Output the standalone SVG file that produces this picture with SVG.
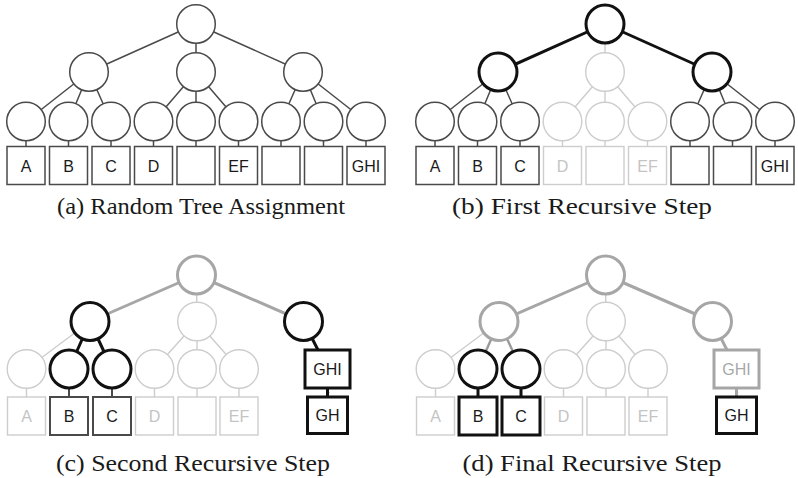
<svg xmlns="http://www.w3.org/2000/svg" width="798" height="478" viewBox="0 0 798 478">
  <style>
    .bg { fill: #ffffff; }
    circle { fill: #ffffff; }
    rect { fill: #ffffff; }
    line { stroke-linecap: round; }
    .n { stroke: #4a4a4a; stroke-width: 1.5; }
    .l { stroke: #cdcdcd; stroke-width: 1.4; }
    .k { stroke: #111111; stroke-width: 3; }
    .g { stroke: #a6a6a6; stroke-width: 3; }
    .m { stroke: #4a4a4a; stroke-width: 2; }
    .gm { stroke: #9a9a9a; stroke-width: 2.4; }
    .lbl { font-family: "Liberation Sans", Arial, sans-serif; font-size: 16px; text-anchor: middle; fill: #1a1a1a; }
    .lbl.lt { fill: #c4c4c4; }
    .lbl.gt { fill: #a8a8a8; }
    .cap { font-family: "Liberation Serif", "Times New Roman", serif; font-size: 23.5px; text-anchor: middle; fill: #1a1a1a; }
  </style>
  <defs>
    <marker id="tipK" viewBox="0 0 10 10" refX="9" refY="5" markerWidth="4" markerHeight="4" orient="auto" markerUnits="userSpaceOnUse">
      <path d="M0,0 L10,5 L0,10 z" fill="#111111"/>
    </marker>
    <marker id="tipG" viewBox="0 0 10 10" refX="9" refY="5" markerWidth="4" markerHeight="4" orient="auto" markerUnits="userSpaceOnUse">
      <path d="M0,0 L10,5 L0,10 z" fill="#a6a6a6"/>
    </marker>
  </defs>
  <rect class="bg" x="0" y="0" width="798" height="478" style="stroke:none"/>

  <!-- ===================== (a) Random Tree Assignment ===================== -->
  <g id="panel-a">
    <g id="a-edges">
      <line class="n" x1="196" y1="24" x2="89" y2="72"/>
      <line class="n" x1="196" y1="24" x2="196" y2="72"/>
      <line class="n" x1="196" y1="24" x2="303" y2="72"/>
      <line class="n" x1="89" y1="72" x2="26" y2="121.5"/>
      <line class="n" x1="89" y1="72" x2="68.5" y2="121.5"/>
      <line class="n" x1="89" y1="72" x2="111" y2="121.5"/>
      <line class="n" x1="196" y1="72" x2="153.5" y2="121.5"/>
      <line class="n" x1="196" y1="72" x2="196" y2="121.5"/>
      <line class="n" x1="196" y1="72" x2="238.5" y2="121.5"/>
      <line class="n" x1="303" y1="72" x2="281" y2="121.5"/>
      <line class="n" x1="303" y1="72" x2="323.5" y2="121.5"/>
      <line class="n" x1="303" y1="72" x2="366" y2="121.5"/>
      <line class="n" x1="26" y1="140" x2="26" y2="146.5"/>
      <line class="n" x1="68.5" y1="140" x2="68.5" y2="146.5"/>
      <line class="n" x1="111" y1="140" x2="111" y2="146.5"/>
      <line class="n" x1="153.5" y1="140" x2="153.5" y2="146.5"/>
      <line class="n" x1="196" y1="140" x2="196" y2="146.5"/>
      <line class="n" x1="238.5" y1="140" x2="238.5" y2="146.5"/>
      <line class="n" x1="281" y1="140" x2="281" y2="146.5"/>
      <line class="n" x1="323.5" y1="140" x2="323.5" y2="146.5"/>
      <line class="n" x1="366" y1="140" x2="366" y2="146.5"/>
    </g>
    <g id="a-root"><circle class="n" cx="196" cy="24" r="19.3"/></g>
    <g id="a-mid-left"><circle class="n" cx="89" cy="72" r="19.3"/></g>
    <g id="a-mid-center"><circle class="n" cx="196" cy="72" r="19.3"/></g>
    <g id="a-mid-right"><circle class="n" cx="303" cy="72" r="19.3"/></g>
    <g id="a-leaf-1"><circle class="n" cx="26" cy="121.5" r="19.3"/><rect class="n" x="7" y="146.5" width="38" height="38"/><text class="lbl" x="26" y="171.5">A</text></g>
    <g id="a-leaf-2"><circle class="n" cx="68.5" cy="121.5" r="19.3"/><rect class="n" x="49.5" y="146.5" width="38" height="38"/><text class="lbl" x="68.5" y="171.5">B</text></g>
    <g id="a-leaf-3"><circle class="n" cx="111" cy="121.5" r="19.3"/><rect class="n" x="92" y="146.5" width="38" height="38"/><text class="lbl" x="111" y="171.5">C</text></g>
    <g id="a-leaf-4"><circle class="n" cx="153.5" cy="121.5" r="19.3"/><rect class="n" x="134.5" y="146.5" width="38" height="38"/><text class="lbl" x="153.5" y="171.5">D</text></g>
    <g id="a-leaf-5"><circle class="n" cx="196" cy="121.5" r="19.3"/><rect class="n" x="177" y="146.5" width="38" height="38"/></g>
    <g id="a-leaf-6"><circle class="n" cx="238.5" cy="121.5" r="19.3"/><rect class="n" x="219.5" y="146.5" width="38" height="38"/><text class="lbl" x="238.5" y="171.5">EF</text></g>
    <g id="a-leaf-7"><circle class="n" cx="281" cy="121.5" r="19.3"/><rect class="n" x="262" y="146.5" width="38" height="38"/></g>
    <g id="a-leaf-8"><circle class="n" cx="323.5" cy="121.5" r="19.3"/><rect class="n" x="304.5" y="146.5" width="38" height="38"/></g>
    <g id="a-leaf-9"><circle class="n" cx="366" cy="121.5" r="19.3"/><rect class="n" x="347" y="146.5" width="38" height="38"/><text class="lbl" x="366" y="171.5">GHI</text></g>
    <text class="cap" x="201" y="214" textLength="288" lengthAdjust="spacingAndGlyphs">(a) Random Tree Assignment</text>
  </g>

  <!-- ===================== (b) First Recursive Step ===================== -->
  <g id="panel-b" transform="translate(409,0)">
    <g id="b-edges">
      <line class="k" x1="196" y1="24" x2="89" y2="72"/>
      <line class="l" x1="196" y1="24" x2="196" y2="72"/>
      <line class="k" x1="196" y1="24" x2="303" y2="72"/>
      <line class="n" x1="89" y1="72" x2="26" y2="121.5"/>
      <line class="n" x1="89" y1="72" x2="68.5" y2="121.5"/>
      <line class="n" x1="89" y1="72" x2="111" y2="121.5"/>
      <line class="l" x1="196" y1="72" x2="153.5" y2="121.5"/>
      <line class="l" x1="196" y1="72" x2="196" y2="121.5"/>
      <line class="l" x1="196" y1="72" x2="238.5" y2="121.5"/>
      <line class="n" x1="303" y1="72" x2="281" y2="121.5"/>
      <line class="n" x1="303" y1="72" x2="323.5" y2="121.5"/>
      <line class="n" x1="303" y1="72" x2="366" y2="121.5"/>
      <line class="n" x1="26" y1="140" x2="26" y2="146.5"/>
      <line class="n" x1="68.5" y1="140" x2="68.5" y2="146.5"/>
      <line class="n" x1="111" y1="140" x2="111" y2="146.5"/>
      <line class="l" x1="153.5" y1="140" x2="153.5" y2="146.5"/>
      <line class="l" x1="196" y1="140" x2="196" y2="146.5"/>
      <line class="l" x1="238.5" y1="140" x2="238.5" y2="146.5"/>
      <line class="n" x1="281" y1="140" x2="281" y2="146.5"/>
      <line class="n" x1="323.5" y1="140" x2="323.5" y2="146.5"/>
      <line class="n" x1="366" y1="140" x2="366" y2="146.5"/>
    </g>
    <g id="b-root"><circle class="k" cx="196" cy="24" r="19"/></g>
    <g id="b-mid-left"><circle class="k" cx="89" cy="72" r="19"/></g>
    <g id="b-mid-center"><circle class="l" cx="196" cy="72" r="19.3"/></g>
    <g id="b-mid-right"><circle class="k" cx="303" cy="72" r="19"/></g>
    <g id="b-leaf-1"><circle class="n" cx="26" cy="121.5" r="19.3"/><rect class="n" x="7" y="146.5" width="38" height="38"/><text class="lbl" x="26" y="171.5">A</text></g>
    <g id="b-leaf-2"><circle class="n" cx="68.5" cy="121.5" r="19.3"/><rect class="n" x="49.5" y="146.5" width="38" height="38"/><text class="lbl" x="68.5" y="171.5">B</text></g>
    <g id="b-leaf-3"><circle class="n" cx="111" cy="121.5" r="19.3"/><rect class="n" x="92" y="146.5" width="38" height="38"/><text class="lbl" x="111" y="171.5">C</text></g>
    <g id="b-leaf-4"><circle class="l" cx="153.5" cy="121.5" r="19.3"/><rect class="l" x="134.5" y="146.5" width="38" height="38"/><text class="lbl lt" x="153.5" y="171.5">D</text></g>
    <g id="b-leaf-5"><circle class="l" cx="196" cy="121.5" r="19.3"/><rect class="l" x="177" y="146.5" width="38" height="38"/></g>
    <g id="b-leaf-6"><circle class="l" cx="238.5" cy="121.5" r="19.3"/><rect class="l" x="219.5" y="146.5" width="38" height="38"/><text class="lbl lt" x="238.5" y="171.5">EF</text></g>
    <g id="b-leaf-7"><circle class="n" cx="281" cy="121.5" r="19.3"/><rect class="n" x="262" y="146.5" width="38" height="38"/></g>
    <g id="b-leaf-8"><circle class="n" cx="323.5" cy="121.5" r="19.3"/><rect class="n" x="304.5" y="146.5" width="38" height="38"/></g>
    <g id="b-leaf-9"><circle class="n" cx="366" cy="121.5" r="19.3"/><rect class="n" x="347" y="146.5" width="38" height="38"/><text class="lbl" x="366" y="171.5">GHI</text></g>
    <text class="cap" x="173" y="214" textLength="260" lengthAdjust="spacingAndGlyphs">(b) First Recursive Step</text>
  </g>

  <!-- ===================== (c) Second Recursive Step ===================== -->
  <g id="panel-c">
    <g id="c-edges">
      <line class="g" x1="196.5" y1="275" x2="90" y2="321.5"/>
      <line class="l" x1="196.5" y1="275" x2="197" y2="321.5"/>
      <line class="g" x1="196.5" y1="275" x2="303.5" y2="321.5"/>
      <line class="l" x1="90" y1="321.5" x2="26.5" y2="369"/>
      <line class="k" x1="90" y1="321.5" x2="69" y2="369"/>
      <line class="k" x1="90" y1="321.5" x2="112" y2="369"/>
      <line class="l" x1="197" y1="321.5" x2="154.5" y2="369"/>
      <line class="l" x1="197" y1="321.5" x2="197" y2="369"/>
      <line class="l" x1="197" y1="321.5" x2="239" y2="369"/>
      <line class="l" x1="26.5" y1="388" x2="26.5" y2="397"/>
      <line class="m" x1="69" y1="388" x2="69" y2="397"/>
      <line class="m" x1="112" y1="388" x2="112" y2="397"/>
      <line class="l" x1="154.5" y1="388" x2="154.5" y2="397"/>
      <line class="l" x1="197" y1="388" x2="197" y2="397"/>
      <line class="l" x1="239" y1="388" x2="239" y2="397"/>
      <line class="k" x1="303.5" y1="321.5" x2="318" y2="350"/>
      <line class="k" x1="327.5" y1="388.5" x2="327.5" y2="396" marker-end="url(#tipK)"/>
    </g>
    <g id="c-root"><circle class="g" cx="196.5" cy="275" r="19"/></g>
    <g id="c-mid-left"><circle class="k" cx="90" cy="321.5" r="19"/></g>
    <g id="c-mid-center"><circle class="l" cx="197" cy="321.5" r="19.3"/></g>
    <g id="c-mid-right"><circle class="k" cx="303.5" cy="321.5" r="19"/></g>
    <g id="c-leaf-1"><circle class="l" cx="26.5" cy="369" r="19.3"/><rect class="l" x="7.5" y="397" width="38" height="38"/><text class="lbl lt" x="26.5" y="422">A</text></g>
    <g id="c-leaf-2"><circle class="k" cx="69" cy="369" r="19"/><rect class="m" x="50" y="397" width="38" height="38"/><text class="lbl" x="69" y="422">B</text></g>
    <g id="c-leaf-3"><circle class="k" cx="112" cy="369" r="19"/><rect class="m" x="93" y="397" width="38" height="38"/><text class="lbl" x="112" y="422">C</text></g>
    <g id="c-leaf-4"><circle class="l" cx="154.5" cy="369" r="19.3"/><rect class="l" x="135.5" y="397" width="38" height="38"/><text class="lbl lt" x="154.5" y="422">D</text></g>
    <g id="c-leaf-5"><circle class="l" cx="197" cy="369" r="19.3"/><rect class="l" x="178" y="397" width="38" height="38"/></g>
    <g id="c-leaf-6"><circle class="l" cx="239" cy="369" r="19.3"/><rect class="l" x="220" y="397" width="38" height="38"/><text class="lbl lt" x="239" y="422">EF</text></g>
    <g id="c-ghi"><rect class="k" x="305" y="350" width="45" height="38"/><text class="lbl" x="327.5" y="375">GHI</text></g>
    <g id="c-gh"><rect class="k" x="307.5" y="397" width="40" height="36.5"/><text class="lbl" x="327.5" y="421">GH</text></g>
    <text class="cap" x="193" y="471" textLength="274" lengthAdjust="spacingAndGlyphs">(c) Second Recursive Step</text>
  </g>

  <!-- ===================== (d) Final Recursive Step ===================== -->
  <g id="panel-d" transform="translate(409,0)">
    <g id="d-edges">
      <line class="g" x1="196.5" y1="275" x2="90" y2="321.5"/>
      <line class="l" x1="196.5" y1="275" x2="197" y2="321.5"/>
      <line class="g" x1="196.5" y1="275" x2="303.5" y2="321.5"/>
      <line class="l" x1="90" y1="321.5" x2="26.5" y2="369"/>
      <line class="gm" x1="90" y1="321.5" x2="69" y2="369"/>
      <line class="gm" x1="90" y1="321.5" x2="112" y2="369"/>
      <line class="l" x1="197" y1="321.5" x2="154.5" y2="369"/>
      <line class="l" x1="197" y1="321.5" x2="197" y2="369"/>
      <line class="l" x1="197" y1="321.5" x2="239" y2="369"/>
      <line class="l" x1="26.5" y1="388" x2="26.5" y2="397"/>
      <line class="k" x1="69" y1="388" x2="69" y2="397"/>
      <line class="k" x1="112" y1="388" x2="112" y2="397"/>
      <line class="l" x1="154.5" y1="388" x2="154.5" y2="397"/>
      <line class="l" x1="197" y1="388" x2="197" y2="397"/>
      <line class="l" x1="239" y1="388" x2="239" y2="397"/>
      <line class="g" x1="303.5" y1="321.5" x2="318" y2="350"/>
      <line class="g" x1="327.5" y1="388.5" x2="327.5" y2="396" marker-end="url(#tipG)"/>
    </g>
    <g id="d-root"><circle class="g" cx="196.5" cy="275" r="19"/></g>
    <g id="d-mid-left"><circle class="g" cx="90" cy="321.5" r="19"/></g>
    <g id="d-mid-center"><circle class="l" cx="197" cy="321.5" r="19.3"/></g>
    <g id="d-mid-right"><circle class="g" cx="303.5" cy="321.5" r="19"/></g>
    <g id="d-leaf-1"><circle class="l" cx="26.5" cy="369" r="19.3"/><rect class="l" x="7.5" y="397" width="38" height="38"/><text class="lbl lt" x="26.5" y="422">A</text></g>
    <g id="d-leaf-2"><circle class="k" cx="69" cy="369" r="19"/><rect class="k" x="50" y="397" width="38" height="38"/><text class="lbl" x="69" y="422">B</text></g>
    <g id="d-leaf-3"><circle class="k" cx="112" cy="369" r="19"/><rect class="k" x="93" y="397" width="38" height="38"/><text class="lbl" x="112" y="422">C</text></g>
    <g id="d-leaf-4"><circle class="l" cx="154.5" cy="369" r="19.3"/><rect class="l" x="135.5" y="397" width="38" height="38"/><text class="lbl lt" x="154.5" y="422">D</text></g>
    <g id="d-leaf-5"><circle class="l" cx="197" cy="369" r="19.3"/><rect class="l" x="178" y="397" width="38" height="38"/></g>
    <g id="d-leaf-6"><circle class="l" cx="239" cy="369" r="19.3"/><rect class="l" x="220" y="397" width="38" height="38"/><text class="lbl lt" x="239" y="422">EF</text></g>
    <g id="d-ghi"><rect class="g" x="305" y="350" width="45" height="38"/><text class="lbl gt" x="327.5" y="375">GHI</text></g>
    <g id="d-gh"><rect class="k" x="307.5" y="397" width="40" height="36.5"/><text class="lbl" x="327.5" y="421">GH</text></g>
    <text class="cap" x="183" y="471" textLength="259" lengthAdjust="spacingAndGlyphs">(d) Final Recursive Step</text>
  </g>
</svg>
